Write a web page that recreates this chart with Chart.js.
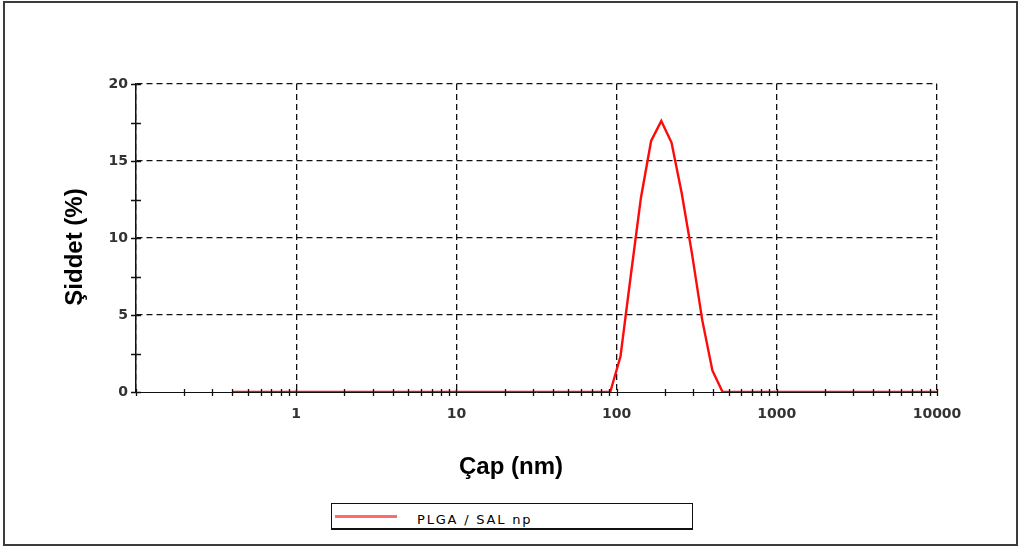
<!DOCTYPE html>
<html>
<head>
<meta charset="utf-8">
<script src="https://cdn.jsdelivr.net/npm/chart.js@4.4.1/dist/chart.umd.min.js"></script>
<style>
  body { margin: 0; background: #fff; }
  #wrap { position: relative; width: 1019px; height: 548px; }
  #frame { position: absolute; left: 3px; top: 1px; width: 1011px; height: 541px; border: 2px solid #3c3c3c; pointer-events: none; }
  #legend { position: absolute; left: 331px; top: 503px; width: 360px; height: 24px; border: 1px solid #111; border-bottom-width: 2px; background: #fff; }
  #legend .swatch { position: absolute; left: 3px; top: 11px; width: 62px; height: 3px; background: rgba(255, 80, 80, 0.85); }
  #legend .label { position: absolute; left: 85px; top: 9px; font: 13px 'DejaVu Sans'; line-height: 13px; letter-spacing: 1.8px; color: #000; white-space: nowrap; }
</style>
</head>
<body>
<div id="wrap">
  <canvas id="dls-chart" width="1019" height="548"></canvas>
  <div id="legend"><span class="swatch"></span><span class="label" id="legend-label"></span></div>
  <div id="frame"></div>
</div>
<script>
// size classes (nm) and intensity (%)
let sizes = [
  0.4, 0.4632, 0.5365, 0.6213, 0.7195, 0.8332, 0.9649, 1.117, 1.294, 1.499,
  1.736, 2.01, 2.328, 2.696, 3.122, 3.615, 4.187, 4.849, 5.615, 6.503,
  7.531, 8.721, 10.1, 11.7, 13.54, 15.69, 18.17, 21.04, 24.36, 28.21,
  32.67, 37.84, 43.82, 50.75, 58.77, 68.06, 78.82, 91.28, 105.7, 122.4,
  141.8, 164.2, 190.1, 220.2, 255.0, 295.3, 342.0, 396.1, 458.7, 531.2,
  615.1, 712.4, 825.0, 955.4, 1106, 1281, 1484, 1718, 1990, 2305,
  2669, 3091, 3580, 4145, 4801, 5560, 6439, 7456, 8635, 10000
];
let intensity = [
  0, 0, 0, 0, 0, 0, 0, 0, 0, 0,
  0, 0, 0, 0, 0, 0, 0, 0, 0, 0,
  0, 0, 0, 0, 0, 0, 0, 0, 0, 0,
  0, 0, 0, 0, 0, 0, 0, 0, 2.3, 7.5,
  12.6, 16.3, 17.6, 16.2, 12.9, 9.0, 4.7, 1.4, 0, 0,
  0, 0, 0, 0, 0, 0, 0, 0, 0, 0,
  0, 0, 0, 0, 0, 0, 0, 0, 0, 0
];

let seriesLabel = 'PLGA / SAL np';
let xTitle = 'Çap (nm)';
let yTitle = 'Şiddet (%)';

let xDecades = [0.1, 1, 10, 100, 1000, 10000];
let xDecadeLabels = ['', '1', '10', '100', '1000', '10000'];
let yTickValues = [0, 2.5, 5, 7.5, 10, 12.5, 15, 17.5, 20];
let yTickLabels = ['0', '', '5', '', '10', '', '15', '', '20'];

// minor ticks at 2..9 of every decade
let xTickValues = [];
xDecades.forEach((d, i) => {
  xTickValues.push(d);
  if (i < xDecades.length - 1) {
    for (let m = 2; m <= 9; m++) xTickValues.push(d * m);
  }
});

document.getElementById('legend-label').textContent = seriesLabel;

let gridDark = '#111';
let noLine = 'rgba(0,0,0,0)';
let tickFont = { family: 'DejaVu Sans', size: 14, weight: 'bold' };

// short tick marks that cross the axes
let tickMarks = {
  id: 'tickMarks',
  afterDraw(chart) {
    let c = chart.ctx, area = chart.chartArea;
    let xs = chart.scales.x, ys = chart.scales.y;
    c.save();
    c.strokeStyle = '#111';
    c.lineWidth = 1.3;
    c.beginPath();
    xs.ticks.forEach((t, i) => {
      let px = Math.round(xs.getPixelForTick(i)) + 0.5;
      c.moveTo(px, area.bottom - 3);
      c.lineTo(px, area.bottom + 4);
    });
    ys.ticks.forEach((t, i) => {
      let py = Math.round(ys.getPixelForTick(i)) + 0.5;
      c.moveTo(area.left - 5, py);
      c.lineTo(area.left + 5, py);
    });
    c.stroke();
    c.restore();
  }
};

let axisTitles = {
  id: 'axisTitles',
  afterDraw(chart) {
    let c = chart.ctx;
    c.save();
    c.fillStyle = '#000';
    c.font = 'bold 24px "Liberation Sans", Arial, sans-serif';
    c.textAlign = 'center';
    c.textBaseline = 'middle';
    c.fillText(xTitle, 511, 467);
    c.translate(75, 247);
    c.rotate(-Math.PI / 2);
    c.fillText(yTitle, 0, 0);
    c.restore();
  }
};

let renderChart = () => {
  let ctx = document.getElementById('dls-chart').getContext('2d');

  new Chart(ctx, {
    type: 'line',
    data: {
      datasets: [
        {
          label: seriesLabel,
          data: sizes.map((s, i) => ({ x: s, y: intensity[i] })),
          borderColor: 'rgb(255, 10, 10)',
          borderWidth: 2.4,
          pointRadius: 0,
          tension: 0,
          fill: false,
        },
      ],
    },
    options: {
      responsive: false,
      animation: false,
      layout: { padding: { left: 60.6, right: 82, top: 84, bottom: 65.6 } },
      plugins: {
        legend: { display: false },
        tooltip: { enabled: false },
      },
      scales: {
        x: {
          type: 'logarithmic',
          min: 0.1,
          max: 10000,
          afterBuildTicks: (s) => { s.ticks = xTickValues.map(v => ({ value: v })); },
          afterFit: (s) => { s.height = 90.4; },
          grid: {
            color: (c) => (c.tick && xDecades.indexOf(c.tick.value) >= 0 ? gridDark : noLine),
            lineWidth: 1.3,
            drawTicks: false,
          },
          border: { display: true, color: '#111', width: 1, dash: [6, 4], z: 1 },
          ticks: {
            autoSkip: false,
            maxRotation: 0,
            padding: 14,
            color: '#333',
            font: tickFont,
            callback: (v) => {
              let k = xDecades.indexOf(v);
              return k >= 0 ? xDecadeLabels[k] : '';
            },
          },
        },
        y: {
          min: 0,
          max: 20,
          afterBuildTicks: (s) => { s.ticks = yTickValues.map(v => ({ value: v })); },
          afterFit: (s) => { s.width = 75.4; },
          grid: {
            color: (c) => (c.tick && c.tick.value > 0 && c.tick.value % 5 === 0 ? gridDark : noLine),
            lineWidth: 1.3,
            drawTicks: false,
          },
          border: { display: true, color: '#111', width: 1.5, dash: [6, 4], z: 1 },
          ticks: {
            autoSkip: false,
            padding: 8,
            color: '#333',
            font: tickFont,
            callback: (v) => {
              let k = yTickValues.indexOf(v);
              return k >= 0 ? yTickLabels[k] : '';
            },
          },
        },
      },
    },
    plugins: [tickMarks, axisTitles],
  });
};

renderChart();
</script>
</body>
</html>
